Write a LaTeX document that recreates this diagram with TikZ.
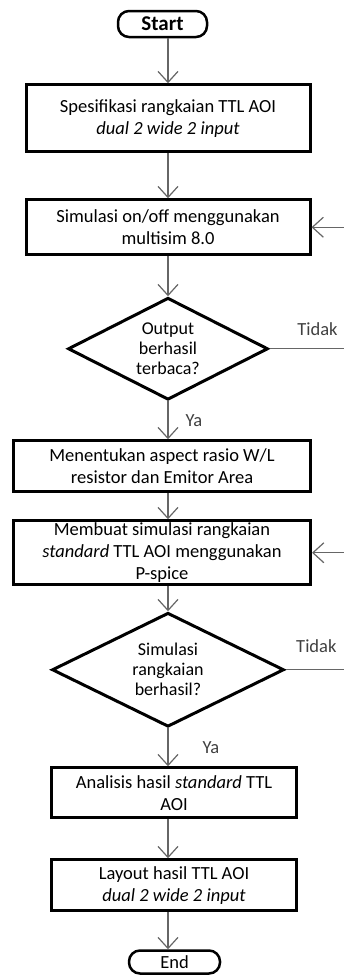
\documentclass[tikz,border=0pt]{standalone}
\usepackage{fontspec}
\setmainfont{Carlito}
\usetikzlibrary{arrows.meta, positioning, shapes.geometric}

\begin{document}
\begin{tikzpicture}[
    x=1pt, y=-1pt,
    every node/.style = {font=\fontsize{18.5}{22}\selectfont},
    process/.style = {rectangle, draw=black, line width=3pt, inner sep=0pt,
                      align=center},
    decision/.style = {diamond, draw=black, line width=3pt, inner sep=0pt,
                       aspect=2, align=center,
                       font=\fontsize{18}{20}\selectfont},
    terminal/.style = {rectangle, draw=black, line width=2.5pt,
                       rounded corners=11pt, inner sep=0pt},
    arr/.style   = {-{Straight Barb[length=11pt, width=20pt]},
                    line width=1.2pt, black!60},
    lbl/.style   = {text=black!75, inner sep=2pt},
]
\useasboundingbox (0,0) rectangle (343,975);

%% ---- Start ----
\node[terminal, minimum width=89pt, minimum height=26pt,
      font=\fontsize{21}{22}\selectfont\bfseries] (start) at (162.5, 24)
    {Start};

%% ---- Spesifikasi ----
\node[process, below=45pt of start, xshift=5.5pt,
      minimum width=284pt, minimum height=67pt] (spec)
    {Spesifikasi rangkaian TTL AOI\\
     \textit{dual 2 wide 2 input}};

%% ---- Simulasi on/off ----
\node[process, below=45pt of spec,
      minimum width=284pt, minimum height=55pt] (simon)
    {Simulasi on/off menggunakan\\
     multisim 8.0};

%% ---- Cek output ----
\node[decision, below=40pt of simon,
      minimum width=200pt, minimum height=102pt] (cekout)
    {Output\\berhasil\\terbaca?};

%% ---- Aspect rasio ----
\node[process, below=38pt of cekout, xshift=-6pt,
      minimum width=297pt, minimum height=51pt] (rasio)
    {Menentukan aspect rasio W/L\\
     resistor dan Emitor Area};

%% ---- Simulasi P-spice ----
\node[process, below=26pt of rasio,
      minimum width=297pt, minimum height=64pt] (pspice)
    {Membuat simulasi rangkaian\\
     \textit{standard} TTL AOI menggunakan\\
     P-spice};

%% ---- Cek simulasi ----
\node[decision, below=25pt of pspice, xshift=6pt,
      minimum width=232pt, minimum height=114pt] (ceksim)
    {Simulasi\\rangkaian\\berhasil?};

%% ---- Analisis ----
\node[process, below=38pt of ceksim, xshift=6pt,
      minimum width=245pt, minimum height=50pt] (analisis)
    {Analisis hasil \textit{standard} TTL\\
     AOI};

%% ---- Layout ----
\node[process, below=39pt of analisis,
      minimum width=245pt, minimum height=51pt] (layout)
    {Layout hasil TTL AOI\\
     \textit{dual 2 wide 2 input}};

%% ---- End ----
\node[terminal, below=37pt of layout, xshift=0.5pt,
      minimum width=91pt, minimum height=23pt] (end)
    {End};

%% ---- Arrows ----
\draw[arr] (spec.north |- start.south) -- (spec.north);
\draw[arr] (spec)    -- (simon);
\draw[arr] (simon)   -- (cekout);
\draw[arr] (cekout.south) -- node[lbl, right=15pt] {Ya} (rasio.north -| cekout);
\draw[arr] (rasio.south -| cekout) -- (pspice.north -| cekout);
\draw[arr] (pspice.south -| cekout) -- (ceksim.north);
\draw[arr] (ceksim.south) -- node[lbl, right=32pt] {Ya} (analisis.north -| ceksim);
\draw[arr] (analisis.south -| ceksim) -- (layout.north -| ceksim);
\draw[arr] (layout.south -| ceksim) -- (end.north -| ceksim);

%% ---- Feedback loops ----
\draw[arr] (cekout.east) -- node[lbl, above=11pt, pos=0.6] {Tidak} ++(80,0)
    |- (simon.east);
\draw[arr] (ceksim.east) -- node[lbl, above=15pt, pos=0.49] {Tidak} ++(63,0)
    |- (pspice.east);

\end{tikzpicture}
\end{document}
